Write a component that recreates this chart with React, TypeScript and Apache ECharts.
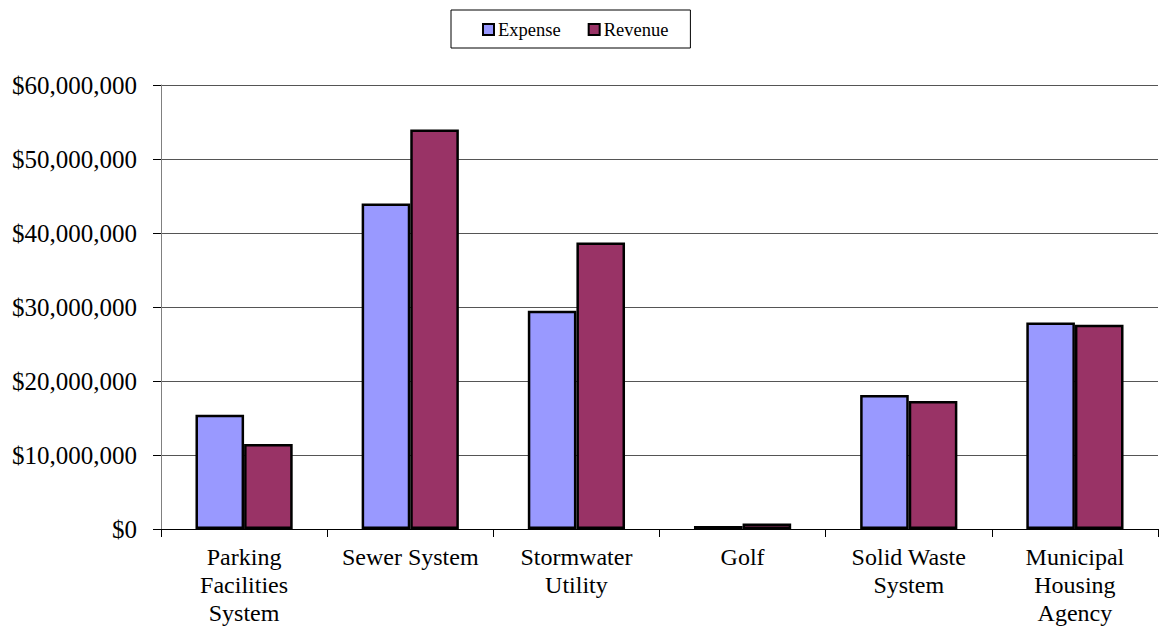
import React, { useEffect, useRef } from "react";
import * as echarts from "echarts";

const categories = [
  "Parking\nFacilities\nSystem",
  "Sewer System",
  "Stormwater\nUtility",
  "Golf",
  "Solid Waste\nSystem",
  "Municipal\nHousing\nAgency",
];
const expense = [15450000, 44000000, 29500000, 400000, 18100000, 27900000];
const revenue = [11500000, 54000000, 38700000, 750000, 17300000, 27600000];
const seriesNames = ["Expense", "Revenue"];

const FONT = "Liberation Serif";

function fmt(v: number) {
  return "$" + v.toString().replace(/\B(?=(\d{3})+(?!\d))/g, ",");
}

export default function App() {
  const ref = useRef<HTMLDivElement>(null);
  useEffect(() => {
    const chart = echarts.init(ref.current!, null, { renderer: "svg" });
    chart.setOption({
      animation: false,
      backgroundColor: "#fff",
      textStyle: { fontFamily: FONT },
      legend: {
        left: 451,
        top: 10,
        padding: [10, 22, 9, 31],
        itemGap: 27,
        itemWidth: 11,
        itemHeight: 11,
        icon: "rect",
        borderColor: "#000",
        borderWidth: 1,
        textStyle: { fontFamily: FONT, fontSize: 18.5, color: "#000", padding: [0, 0, 0, -1] },
        data: seriesNames.map((n) => ({ name: n, itemStyle: { borderColor: "#000", borderWidth: 2 } })),
      },
      grid: { left: 161, right: 2, top: 85, bottom: 99, containLabel: false },
      xAxis: {
        type: "category",
        data: categories,
        axisLine: { lineStyle: { color: "#000", width: 1 } },
        axisTick: { show: true, length: 8, lineStyle: { color: "#000" }, alignWithLabel: false },
        axisLabel: {
          fontFamily: FONT,
          fontSize: 24,
          color: "#000",
          lineHeight: 28,
          margin: 14,
          interval: 0,
        },
      },
      yAxis: {
        type: "value",
        min: 0,
        max: 60000000,
        interval: 10000000,
        axisLine: { show: true, lineStyle: { color: "#808080", width: 1 } },
        axisTick: { show: true, length: 8, lineStyle: { color: "#000" } },
        splitLine: { lineStyle: { color: "#555", width: 1 } },
        axisLabel: {
          fontFamily: FONT,
          fontSize: 25,
          color: "#000",
          margin: 24,
          formatter: (v: number) => fmt(v),
        },
      },
      series: [
        {
          name: seriesNames[0],
          type: "bar",
          data: expense,
          barGap: "0%",
          barCategoryGap: "41.5%",
          itemStyle: { color: "#9999FF", borderColor: "#000", borderWidth: 2.5 },
        },
        {
          name: seriesNames[1],
          type: "bar",
          data: revenue,
          itemStyle: { color: "#993366", borderColor: "#000", borderWidth: 2.5 },
        },
      ],
    });
    return () => chart.dispose();
  }, []);
  return (
    <div
      ref={ref}
      style={{ width: 1160, height: 628, position: "absolute", left: 0, top: 0 }}
    />
  );
}
